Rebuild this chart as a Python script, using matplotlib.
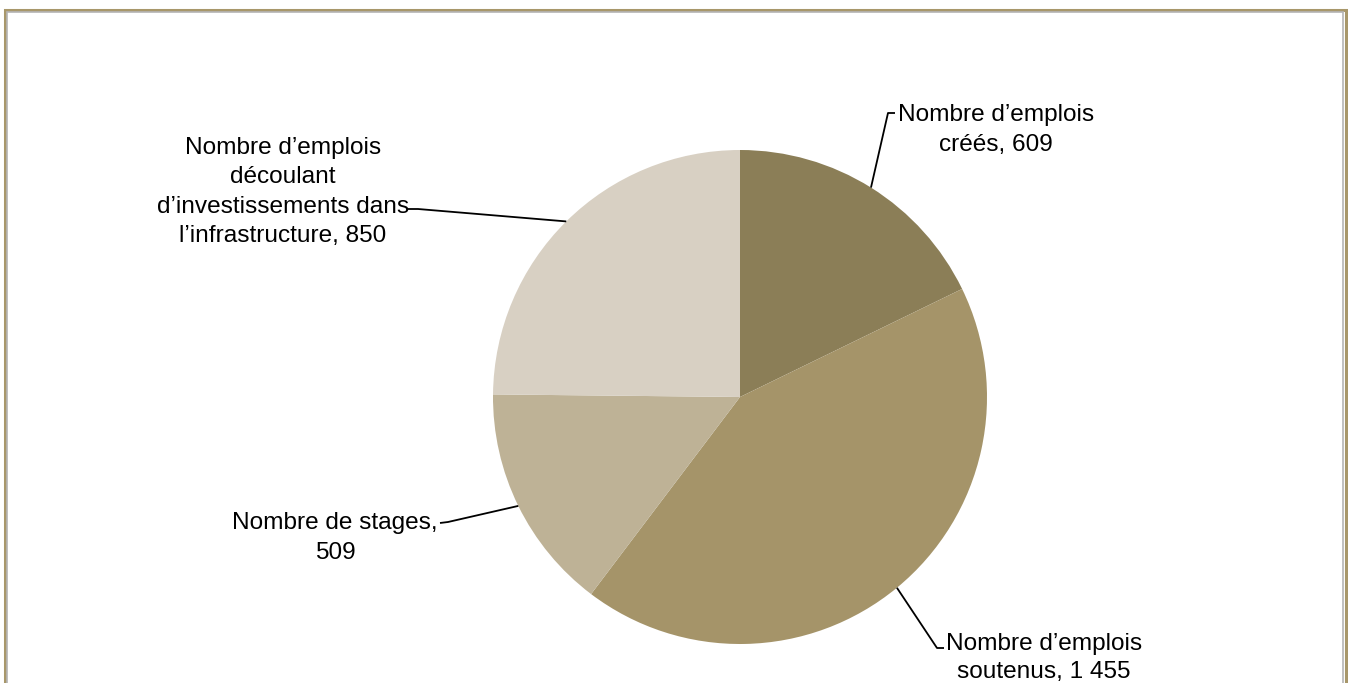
import numpy as np
import matplotlib.pyplot as plt
from matplotlib.patches import Rectangle

plt.rcParams['font.family'] = ['Liberation Sans', 'DejaVu Sans']

labels = ["Nombre d\u2019emplois\ncréés, 609",
          "Nombre d\u2019emplois\nsoutenus, 1 455",
          "Nombre de stages,\n509",
          "Nombre d\u2019emplois\ndécoulant\nd\u2019investissements dans\nl\u2019infrastructure, 850"]
values = [609, 1455, 509, 850]
colors = ['#8B7E57', '#A59469', '#BEB296', '#D8D0C3']

W, H = 1348, 683
fig = plt.figure(figsize=(W / 100, H / 100), dpi=100)
ax = fig.add_axes([0, 0, 1, 1])

def fy(y):
    # image row -> data y
    return H - y

cx, cy, r = 740, fy(397), 247
wedges, _ = ax.pie(values, colors=colors, startangle=90, counterclock=False,
                   center=(cx, cy), radius=r, frame=True,
                   wedgeprops=dict(linewidth=0))
ax.set_xlim(0, W)
ax.set_ylim(0, H)
ax.set_aspect('equal')
ax.axis('off')

# label text center, knee of leader, leader end near text, line spacing
lab_pos = [
    ((996, 130), (888, 113), (895, 113), 1.42),
    ((1044, 658), (937, 648), (944, 648), 1.3),
    ((335, 538), (448, 522), (440, 523), 1.42),
    ((283, 192), (418, 209), (408, 209), 1.42),
]

for w, lab, (tp, knee, tend, ls) in zip(wedges, labels, lab_pos):
    mid = np.deg2rad((w.theta1 + w.theta2) / 2)
    ex = cx + r * np.cos(mid)
    ey = cy + r * np.sin(mid)
    ax.plot([ex, knee[0], tend[0]], [ey, fy(knee[1]), fy(tend[1])],
            color='black', lw=1.3, solid_capstyle='butt')
    ax.text(tp[0], fy(tp[1]), lab, ha='center', va='center',
            fontsize=17.6, linespacing=ls, color='black')

# frame
fig.patches.append(Rectangle((4.5 / W, -0.1), (1346 - 4.5) / W, (H - 10) / H + 0.1,
                             transform=fig.transFigure, fill=False,
                             edgecolor='#A8976A', lw=2.2))
fig.patches.append(Rectangle((6.8 / W, -0.1), (1342.5 - 6.8) / W, (H - 12.5) / H + 0.1,
                             transform=fig.transFigure, fill=False,
                             edgecolor='#B5B5B5', lw=1.2))

fig.savefig('out.png', dpi=100)
